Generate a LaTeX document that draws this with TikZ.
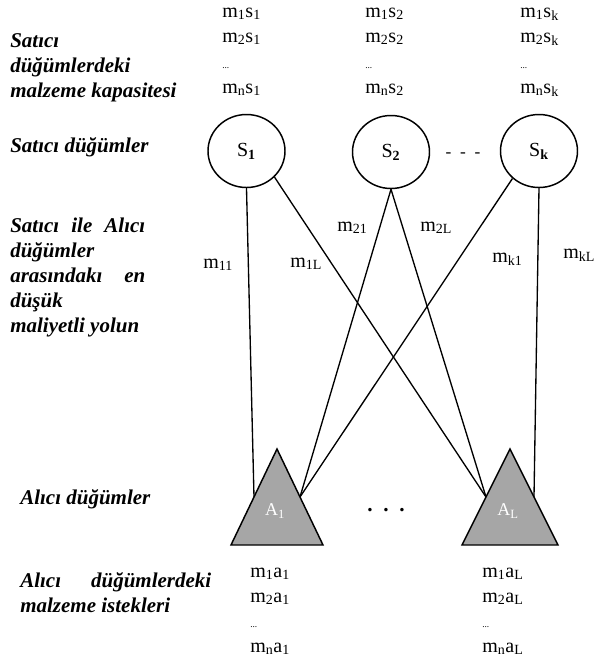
\documentclass[tikz,border=0pt]{standalone}
\usepackage{fontspec}
\setmainfont{Liberation Serif}[
  BoldFont={Liberation Serif Bold},
  ItalicFont={Liberation Serif Italic},
  BoldItalicFont={Liberation Serif Bold Italic}]
\newfontfamily\captionfont{Liberation Serif Bold Italic}
\usetikzlibrary{calc,shapes.geometric}
\newcommand{\lo}[1]{\textsubscript{#1}}

\begin{document}
\begin{tikzpicture}[x=0.75pt,y=-0.75pt,
  txt/.style={anchor=base west, inner sep=0pt, font=\fontsize{15}{18}\selectfont},
  lbl/.style={anchor=base west, inner sep=0pt, font=\captionfont\fontsize{15.75}{18}\selectfont},
  dots/.style={anchor=base west, inner sep=0pt, font=\fontsize{7}{8}\selectfont},
  seller/.style={ellipse, draw, line width=1.1pt, minimum width=57.75pt, minimum height=54.75pt,
    inner sep=0pt, font=\fontsize{15}{18}\selectfont},
  buyer/.style={fill=black!35, draw=black, line width=1.1pt, line join=miter},
  conn/.style={draw, line width=1pt},
]
\useasboundingbox (0,0) rectangle (594,662);

% left-hand captions
\node[lbl] (c1a) at (10,47) {Satıcı};
\node[lbl] (c1b) at (10,72) {düğümlerdeki};
\node[lbl] (c1c) at (10,97) {malzeme kapasitesi};
\node[lbl] (c2)  at (10,152) {Satıcı düğümler};
\node[lbl] (c3a) at (10,232) {\makebox[101.25pt][s]{Satıcı ile Alıcı}};
\node[lbl] (c3b) at (10,257) {düğümler};
\node[lbl] (c3c) at (10,282) {\makebox[101.25pt][s]{arasındakı en}};
\node[lbl] (c3d) at (10,307) {düşük};
\node[lbl] (c3e) at (10,332) {maliyetli yolun};
\node[lbl] (c4)  at (20,504) {Alıcı düğümler};
\node[lbl] (c5a) at (20,587) {\makebox[143.25pt][s]{Alıcı düğümlerdeki}};
\node[lbl] (c5b) at (20,612) {malzeme istekleri};

% seller capacities
\foreach \c/\x in {1/222, 2/365, k/520} {
  \node[txt] (cap1\c) at (\x,17) {m\lo{1}s\lo{\c}};
  \node[txt] (cap2\c) at (\x,42) {m\lo{2}s\lo{\c}};
  \node[dots] (capd\c) at (\x,68) {...};
  \node[txt] (capn\c) at (\x,93) {m\lo{n}s\lo{\c}};
}

% seller nodes
\node[seller] (s1) at (246.5,151) {S\lo{\textbf{1}}};
\node[seller] (s2) at (391,152) {S\lo{\textbf{2}}};
\node[seller] (sk) at (539,151) {S\lo{\textbf{k}}};
\node[font=\fontsize{13}{15}\selectfont, inner sep=0pt] (sdots) at (463,155) {-\,\,\,-\,\,\,-};

% buyer nodes (triangles)
\coordinate (a1t)  at (277,449);
\coordinate (a1bl) at (231,545);
\coordinate (a1br) at (323,545);
\coordinate (aLt)  at (510,449);
\coordinate (aLbl) at (462,545);
\coordinate (aLbr) at (558,545);
\filldraw[buyer] (a1t) -- (a1bl) -- (a1br) -- cycle;
\filldraw[buyer] (aLt) -- (aLbl) -- (aLbr) -- cycle;
\coordinate (a1l) at ($(a1t)!0.5!(a1bl)$);
\coordinate (a1r) at ($(a1t)!0.5!(a1br)$);
\coordinate (aLl) at ($(aLt)!0.5!(aLbl)$);
\coordinate (aLr) at ($(aLt)!0.5!(aLbr)$);
\node[inner sep=0pt, text=white, font=\fontsize{13.5}{16}\selectfont] (a1) at (275,511) {A\lo{1}};
\node[inner sep=0pt, text=white, font=\fontsize{13.5}{16}\selectfont] (aL) at (508,511) {A\lo{L}};
\node[inner sep=0pt, font=\fontsize{16}{18}\selectfont\bfseries] (adots) at (386,510) {.\,\,\,.\,\,\,.};

% cheapest paths between sellers and buyers
\draw[conn] (s1.south) -- (a1l);
\draw[conn] (s1.-43) -- (aLl);
\draw[conn] (s2.south) -- (a1r);
\draw[conn] (s2.south) -- (aLl);
\draw[conn] (sk.-134) -- (a1r);
\draw[conn] (sk.south) -- (aLr);

% path cost labels
\node[txt] (m11) at (203,268) {m\lo{11}};
\node[txt] (m1L) at (290,267) {m\lo{1L}};
\node[txt] (m21) at (337,231) {m\lo{21}};
\node[txt] (m2L) at (420,231) {m\lo{2L}};
\node[txt] (mk1) at (492,262) {m\lo{k1}};
\node[txt] (mkL) at (563,258) {m\lo{kL}};

% buyer demands
\foreach \c/\x in {1/250, L/482} {
  \node[txt] (dem1\c) at (\x,577) {m\lo{1}a\lo{\c}};
  \node[txt] (dem2\c) at (\x,602) {m\lo{2}a\lo{\c}};
  \node[dots] (demd\c) at (\x,627) {...};
  \node[txt] (demn\c) at (\x,652) {m\lo{n}a\lo{\c}};
}
\end{tikzpicture}
\end{document}
